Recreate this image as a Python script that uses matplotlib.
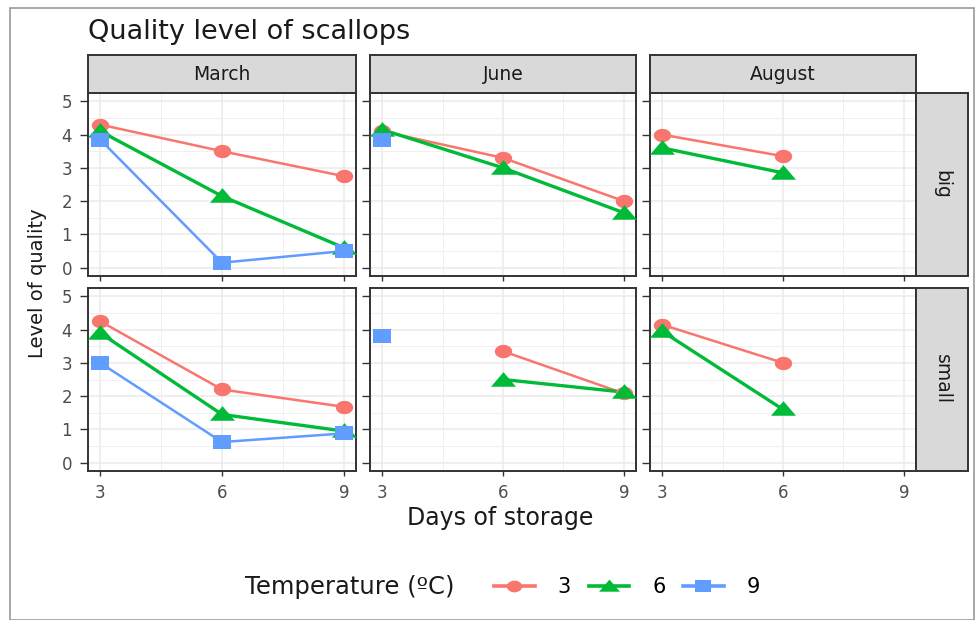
import numpy as np
import matplotlib
matplotlib.use("Agg")
import matplotlib.pyplot as plt
from matplotlib.lines import Line2D
from matplotlib.patches import Rectangle
from matplotlib.path import Path

plt.rcParams['font.family'] = ['DejaVu Sans']

days = [3, 6, 9]
months = ["March", "June", "August"]
sizes = ["big", "small"]
temps = ["3", "6", "9"]

nan = np.nan
# quality per temperature (rows: 3, 6, 9 ºC) over days 3, 6, 9
march_big = [[4.3, 3.5, 2.75], [4.1, 2.15, 0.6], [3.85, 0.15, 0.5]]
june_big = [[4.1, 3.3, 2.0], [4.15, 3.0, 1.65], [3.85, nan, nan]]
august_big = [[4.0, 3.35, nan], [3.6, 2.85, nan], [nan, nan, nan]]
march_small = [[4.25, 2.2, 1.68], [3.9, 1.45, 0.95], [3.0, 0.62, 0.88]]
june_small = [[nan, 3.35, 2.08], [nan, 2.5, 2.12], [3.8, nan, nan]]
august_small = [[4.15, 3.0, nan], [3.95, 1.6, nan], [nan, nan, nan]]

panel_data = {
    ("big", "March"): march_big, ("big", "June"): june_big, ("big", "August"): august_big,
    ("small", "March"): march_small, ("small", "June"): june_small, ("small", "August"): august_small,
}

colors = ["#F8766D", "#00BA38", "#619CFF"]
lwidths = [1.8, 2.4, 1.8]

# slightly widened point shapes (circle, triangle, square)
t = np.linspace(0, 2 * np.pi, 41)
wide_circle = Path(np.column_stack([1.3 * np.cos(t), np.sin(t)]), closed=True)
wide_triangle = Path([(-1.5, -0.75), (1.5, -0.75), (0, 1.0), (-1.5, -0.75)], closed=True)
wide_square = Path([(-1.27, -1), (1.27, -1), (1.27, 1), (-1.27, 1), (-1.27, -1)], closed=True)
markers = [wide_circle, wide_triangle, wide_square]
msizes = [12.5, 18, 13.5]

W, H = 976, 620
fig = plt.figure(figsize=(W / 100, H / 100), dpi=100)

def frac(x0, y0, x1, y1):
    return [x0 / W, 1 - y1 / H, (x1 - x0) / W, (y1 - y0) / H]

# outer frame
fig.patches.append(Rectangle((10 / W, 0), (W - 12) / W, 1 - 8 / H, transform=fig.transFigure,
                             fill=False, edgecolor="#9a9a9a", lw=1.2))

cols = [(88, 356), (370, 636), (650, 916)]
rows = [(93, 276), (288, 471)]
border = "#333333"

for r, size in enumerate(sizes):
    for c, month in enumerate(months):
        x0, x1 = cols[c]
        y0, y1 = rows[r]
        ax = fig.add_axes(frac(x0, y0, x1, y1))
        ax.set_xlim(2.7, 9.3)
        ax.set_ylim(-0.25, 5.25)
        ax.set_xticks(days)
        ax.set_yticks(range(6))
        ax.set_xticks([4.5, 7.5], minor=True)
        ax.set_yticks(np.arange(0.5, 5.0, 1.0), minor=True)
        ax.grid(which="major", color="#EBEBEB", lw=1.1)
        ax.grid(which="minor", color="#F0F0F0", lw=0.7)
        ax.set_axisbelow(True)
        for s in ax.spines.values():
            s.set_color(border)
            s.set_linewidth(1.4)
        ax.tick_params(axis="x", which="major", length=3.5, width=1.0, color="#333333",
                       labelsize=12, labelcolor="#4D4D4D", pad=6)
        ax.tick_params(axis="y", which="major", length=5.5, width=1.0, color="#333333",
                       labelsize=12, labelcolor="#4D4D4D", pad=6)
        ax.tick_params(which="minor", length=0)
        if r == 0:
            ax.tick_params(labelbottom=False)
        if c > 0:
            ax.tick_params(labelleft=False)
        data = panel_data[(size, month)]
        for k in range(3):
            ax.plot(days, data[k], color=colors[k], lw=lwidths[k], zorder=2, clip_on=False)
        for k in range(3):
            ax.plot(days, data[k], linestyle="none", marker=markers[k], ms=msizes[k],
                    color=colors[k], mew=0, zorder=3 + k, clip_on=False)
        # column strips
        if r == 0:
            sax = fig.add_axes(frac(x0, 55, x1, 93))
            sax.set_facecolor("#D9D9D9")
            sax.set_xticks([]); sax.set_yticks([])
            for s in sax.spines.values():
                s.set_color(border); s.set_linewidth(1.4)
            sax.text(0.5, 0.5, month, ha="center", va="center", fontsize=13.5,
                     color="#1A1A1A", transform=sax.transAxes)
        # row strips
        if c == 2:
            sax = fig.add_axes(frac(916, y0, 968, y1))
            sax.set_facecolor("#D9D9D9")
            sax.set_xticks([]); sax.set_yticks([])
            for s in sax.spines.values():
                s.set_color(border); s.set_linewidth(1.4)
            sax.text(0.5, 0.5, size, ha="center", va="center", fontsize=13.5, rotation=-90,
                     color="#1A1A1A", transform=sax.transAxes)

fig.text(88 / W, 1 - 32 / H, "Quality level of scallops", fontsize=19.5, ha="left",
         va="center", color="#1A1A1A")
fig.text(500 / W, 1 - 518 / H, "Days of storage", fontsize=17, ha="center", va="center",
         color="#1A1A1A")
fig.text(38 / W, 1 - 283 / H, "Level of quality", fontsize=14, rotation=90, ha="center",
         va="center", color="#1A1A1A")

fig.text(245 / W, 1 - 587 / H, "Temperature (ºC)", fontsize=17.5, ha="left", va="center",
         color="#1A1A1A")
legend_markers = [wide_circle, wide_triangle, wide_square]
legend_ms = [11, 15, 11]
handles = [Line2D([], [], color=colors[k], lw=2.6, marker=legend_markers[k], ms=legend_ms[k],
                  mew=0) for k in range(3)]
fig.legend(handles, temps, loc="center left", bbox_to_anchor=(494 / W, 1 - 587 / H), ncol=3,
           frameon=False, fontsize=15, handlelength=1.95, columnspacing=0.85,
           handletextpad=1.1, borderpad=0, borderaxespad=0)

fig.savefig("out.png", dpi=100)
